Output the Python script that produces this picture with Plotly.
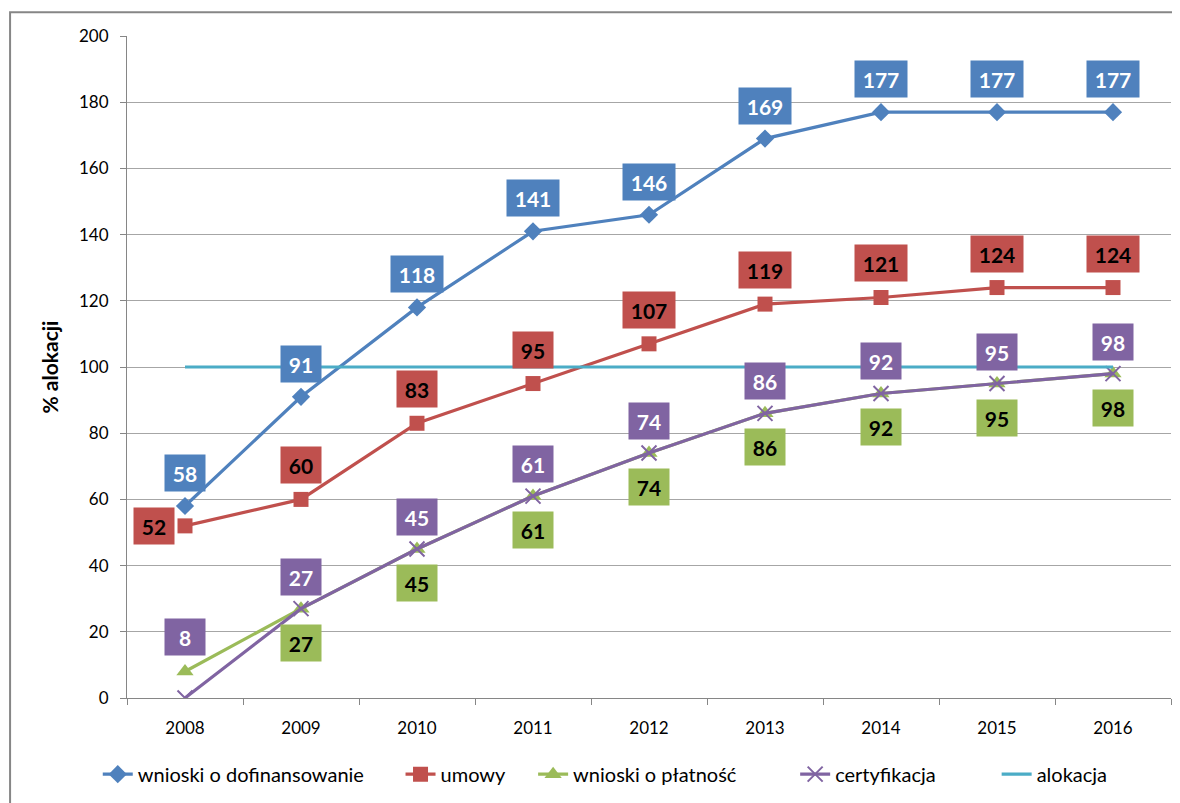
import plotly.graph_objects as go

years = ["2008", "2009", "2010", "2011", "2012", "2013", "2014", "2015", "2016"]
wnioski_dof = [58, 91, 118, 141, 146, 169, 177, 177, 177]
umowy = [52, 60, 83, 95, 107, 119, 121, 124, 124]
wnioski_plat = [8, 27, 45, 61, 74, 86, 92, 95, 98]
certyfikacja = [0, 27, 45, 61, 74, 86, 92, 95, 98]
alokacja = [100, 100, 100, 100, 100, 100, 100, 100, 100]

BLUE = "#4f81bd"
RED = "#c0504d"
GREEN = "#9bbb59"
PURPLE = "#8064a2"
CYAN = "#4bacc6"
FONT = "Lato"

fig = go.Figure()

fig.add_trace(go.Scatter(
    x=years, y=wnioski_dof, name="wnioski o dofinansowanie", legend="legend",
    mode="lines+markers", line=dict(color=BLUE, width=3.2),
    marker=dict(symbol="diamond", size=14, color=BLUE)
))
fig.add_trace(go.Scatter(
    x=years, y=umowy, name="umowy", legend="legend2",
    mode="lines+markers", line=dict(color=RED, width=3.2),
    marker=dict(symbol="square", size=15, color=RED)
))
fig.add_trace(go.Scatter(
    x=years, y=wnioski_plat, name="wnioski o płatność", legend="legend3",
    mode="lines+markers", line=dict(color=GREEN, width=3.2),
    marker=dict(symbol="triangle-up", size=15, color=GREEN)
))
fig.add_trace(go.Scatter(
    x=years, y=certyfikacja, name="certyfikacja", legend="legend4",
    mode="lines+markers", line=dict(color=PURPLE, width=3.2),
    marker=dict(symbol="x-thin", size=15, line=dict(color=PURPLE, width=2))
))
fig.add_trace(go.Scatter(
    x=years, y=alokacja, name="alokacja", legend="legend5",
    mode="lines", line=dict(color=CYAN, width=3.2)
))


def label(i, y, text, bg, fg, xshift=0, yshift=0):
    # i is the category index so the annotation does not stretch the axis
    fig.add_annotation(
        x=i, y=y, xref="x", yref="y", text="<b>%s</b>" % text,
        showarrow=False, bgcolor=bg, borderpad=0,
        width=40 if len(text) < 3 else 52, height=36,
        font=dict(family=FONT, size=21, color=fg),
        xshift=xshift, yshift=yshift
    )


for i in range(len(years)):
    label(i, wnioski_dof[i], str(wnioski_dof[i]), BLUE, "white", yshift=33)
    if i == 0:
        label(i, umowy[i], str(umowy[i]), RED, "black", xshift=-31)
        label(i, wnioski_plat[i], str(wnioski_plat[i]), PURPLE, "white", yshift=35)
    else:
        label(i, umowy[i], str(umowy[i]), RED, "black", yshift=34)
        label(i, wnioski_plat[i], str(wnioski_plat[i]), GREEN, "black", yshift=-34)
        label(i, certyfikacja[i], str(certyfikacja[i]), PURPLE, "white", yshift=32)

# outer chart border
fig.add_shape(
    type="rect", xref="paper", yref="paper",
    x0=-0.112, x1=1.2, y0=-0.3, y1=1.036,
    line=dict(color="#868686", width=2), fillcolor="rgba(0,0,0,0)"
)


def legend_at(x):
    return dict(
        orientation="h", x=x, xanchor="left", y=-0.115, yanchor="middle",
        font=dict(family=FONT, size=20, color="black"),
        bgcolor="rgba(0,0,0,0)"
    )


# the page body adds an 8px margin, so the figure is 8px smaller
fig.update_layout(
    width=1172,
    height=795,
    margin=dict(l=119, r=9, t=28, b=103),
    plot_bgcolor="white",
    paper_bgcolor="white",
    font=dict(family=FONT, size=17, color="black"),
    showlegend=True,
    legend=legend_at(-0.028),
    legend2=legend_at(0.262),
    legend3=legend_at(0.389),
    legend4=legend_at(0.640),
    legend5=legend_at(0.833),
    xaxis=dict(
        type="category", range=[-0.5, 8.5], showgrid=False, showline=True,
        linecolor="#868686", ticks="outside", tickson="boundaries", ticklen=6,
        tickcolor="#868686", tickfont=dict(size=17), tickangle=0,
        ticklabelstandoff=15
    ),
    yaxis=dict(
        range=[0, 200], dtick=20, showgrid=True, gridcolor="#a6a6a6",
        showline=True, linecolor="#868686", ticks="outside", ticklen=6,
        tickcolor="#868686", zeroline=False, tickfont=dict(size=17),
        ticklabelstandoff=8,
        title=dict(text="<b>% alokacji</b>", font=dict(size=21), standoff=14)
    )
)

fig.write_html("out.html")
